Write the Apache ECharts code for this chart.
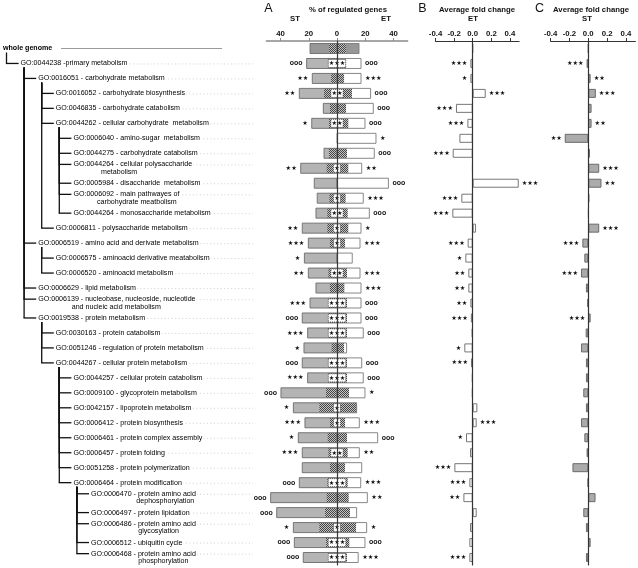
<!DOCTYPE html>
<html><head><meta charset="utf-8">
<script src="https://cdn.jsdelivr.net/npm/echarts@6/dist/echarts.min.js"></script>
<style>html,body{margin:0;padding:0;background:#fff}#c{width:638px;height:568px}</style>
</head><body><div id="c"></div>
<script>
// ---------- data ----------
const labels = [
  'whole genome',
  'GO:0044238 -primary metabolism',
  'GO:0016051 - carbohydrate metabolism',
  'GO:0016052 - carbohydrate biosynthesis',
  'GO:0046835 - carbohydrate catabolism',
  'GO:0044262 - cellular carbohydrate  metabolism',
  'GO:0006040 - amino-sugar  metabolism',
  'GO:0044275 - carbohydrate catabolism',
  'GO:0044264 - cellular polysaccharide\n              metabolism',
  'GO:0005984 - disaccharide  metabolism',
  'GO:0006092 - main pathwayes of\n            carbohydrate meatbolism',
  'GO:0044264 - monosaccharide metabolism',
  'GO:0006811 - polysaccharide metabolism',
  'GO:0006519 - amino acid and derivate metabolism',
  'GO:0006575 - aminoacid derivative meatabolism',
  'GO:0006520 - aminoacid metabolism',
  'GO:0006629 - lipid metabolism',
  'GO:0006139 - nucleobase, nucleoside, nucleotide\n                 and nucleic acid metabolism',
  'GO:0019538 - protein metabolism',
  'GO:0030163 - protein catabolism',
  'GO:0051246 - regulation of protein metabolism',
  'GO:0044267 - cellular protein metabolism',
  'GO:0044257 - cellular protein catabolism',
  'GO:0009100 - glycoprotein metabolism',
  'GO:0042157 - lipoprotein metabolism',
  'GO:0006412 - protein biosynthesis',
  'GO:0006461 - protein complex assembly',
  'GO:0006457 - protein folding',
  'GO:0051258 - protein polymerization',
  'GO:0006464 - protein modification',
  'GO:0006470 - protein amino acid\n                       dephosphorylation',
  'GO:0006497 - protein lipidation',
  'GO:0006486 - protein amino acid\n                        glycosylation',
  'GO:0006512 - ubiquitin cycle',
  'GO:0006468 - protein amino acid\n                        phosphorylation'
];
const levels  = [0,1,2,3,3,3,4,4,4,4,4,4,3,2,3,3,2,2,2,3,3,3,4,4,4,4,4,4,4,4,5,5,5,5,5];
const parents = [-1,0,1,2,2,2,5,5,5,5,5,5,2,1,13,13,1,1,1,18,18,18,21,21,21,21,21,21,21,21,29,29,29,29,29];

// Panel A: % of regulated genes (ST to the left, ET to the right), shared (hatched) part
const pctST = [19.1,21.5,17.5,26.7,9.7,17.9,0,9.2,25.7,16.1,14.0,14.9,24.6,20.3,23.1,20.3,14.9,19.1,24.6,20.8,23.4,24.6,20.8,39.7,30.9,22.7,27.4,24.6,24.6,26.7,47.0,42.7,30.9,30.2,23.9];
const pctET = [15.6,17.0,17.0,23.8,25.7,19.8,27.6,26.4,17.5,36.4,18.6,22.9,17.0,16.3,10.8,16.3,17.0,17.0,17.0,18.6,6.8,17.5,18.6,19.8,13.9,15.8,28.8,15.8,17.5,16.8,21.5,13.9,21.0,19.8,15.0];
const sharedST = [5.7,6.1,4.2,9.2,5.0,5.7,0,5.7,7.3,0,5.4,6.85,6.85,5.0,0,6.1,5.0,5.7,6.1,6.1,3.8,6.1,6.1,7.8,12.5,5.0,6.6,6.1,5.0,6.85,7.3,8.5,12.5,7.8,5.7];
const sharedET = [6.4,6.4,5.0,10.6,6.4,8.0,0,7.1,8.0,0,6.1,7.55,8.0,5.7,0,7.1,5.2,7.1,7.1,7.1,5.0,7.1,7.1,8.5,13.9,5.7,7.1,7.55,5.7,7.55,8.3,9.2,13.5,8.7,7.1];
const markST = ['','ooo','**','**','','*','','','**','','','','**','***','*','**','','***','ooo','***','*','ooo','***','ooo','*','***','*','***','','ooo','ooo','ooo','*','ooo','ooo'];
const markET = ['','ooo','***','ooo','ooo','ooo','*','ooo','**','ooo','***','ooo','*','***','','***','***','ooo','ooo','ooo','','ooo','ooo','*','','***','ooo','**','','***','**','','*','ooo','***'];
const markShared = ['','***','','**','','**','','','*','','*','**','*','*','','**','','***','***','***','','***','***','','*','*','','**','','***','','','*','***','***'];

// Panel B: average fold change ET ; Panel C: average fold change ST
const fcET = [0,-0.025,-0.025,0.14,-0.18,-0.057,-0.143,-0.215,-0.005,0.495,-0.122,-0.219,0.036,-0.054,-0.079,-0.047,-0.047,-0.025,-0.02,-0.01,-0.09,-0.018,-0.007,-0.007,0.05,0.043,-0.072,-0.029,-0.197,-0.036,-0.1,0.043,-0.029,-0.036,-0.036];
const markFcET = ['','L***','L*','R***','L***','L***','','L***','','R***','L***','L***','','L***','L*','L**','L**','L**','L***','','L*','L***','','','','R***','L*','','L***','L***','L**','','','','L***'];
const fcST = [0,-0.018,0.025,0.08,0.035,0.035,-0.25,0.017,0.116,0.14,0.01,0.003,0.116,-0.063,-0.042,-0.077,-0.025,-0.01,0.025,-0.028,-0.077,-0.025,-0.025,-0.053,-0.025,-0.077,-0.042,-0.018,-0.168,-0.005,0.077,-0.053,-0.025,0.025,-0.025];
const markFcST = ['','L***','R**','R***','','R**','L**','','R***','R**','','','R***','L***','','L***','','','L***','','','','','','','','','','','','','','','',''];

const ticksPct = [-40,-20,0,20,40];
const ticksFc = [-0.4,-0.2,0,0.2,0.4];

// ---------- chart ----------
const rows = labels.map((_, i) => String(i));
const FONT = '"Liberation Sans", Arial, sans-serif';
const STAR = '\u2605';
function glyph(m){ return m.indexOf('*') >= 0 ? STAR.repeat(m.length) : m; }
function markFont(m){
  return m.indexOf('*') >= 0 ? {fontFamily:'"DejaVu Sans"', fontSize:6.2, fontWeight:'normal'}
                              : {fontFamily:FONT, fontSize:7, fontWeight:'bold'};
}

// hatch pattern
const pat = document.createElement('canvas'); pat.width = 4; pat.height = 4;
const pg = pat.getContext('2d'); pg.fillStyle = '#c4c4c4'; pg.fillRect(0,0,4,4); pg.fillStyle = '#454545';
for (let y=0;y<4;y++) for (let x=0;x<4;x++) if ((x+y)%2===0) pg.fillRect(x,y,1,1);
const hatch = {image: pat, repeat: 'repeat'};

const TOP = 41, H = 524;

function renderTree(params, api){
  const i = params.dataIndex;
  const L = levels[i];
  const p0 = api.coord([L, i]);
  const tx = p0[0], ty = p0[1];
  const lineH = 7.7;
  const two = labels[i].indexOf('\n') >= 0;
  const ay = two ? ty - lineH/2 : ty;
  const cs = params.coordSys;
  const rightX = cs.x + cs.width;
  const ch = [];
  if (i === 0) {
    ch.push({type:'line', shape:{x1:tx+58, y1:ty, x2:tx+219, y2:ty}, style:{stroke:'#9a9a9a', lineWidth:1}});
  } else {
    ch.push({type:'line', shape:{x1:tx+4, y1:ay+0.5, x2:rightX, y2:ay+0.5}, style:{stroke:'#c4c4c4', lineWidth:0.8, lineDash:[1,2.5]}});
  }
  ch.push({type:'text', style:{text:labels[i], x:tx, y:ty, align:'left', verticalAlign:'middle',
    fontFamily:FONT, fontSize:7.1, fontWeight: i===0 ? 'bold' : 'normal', fill:'#000',
    lineHeight:lineH, backgroundColor:'#fff', padding:[0,1,0,0]}});
  const p = parents[i];
  if (p >= 0) {
    const pp = api.coord([levels[p], p]);
    const vx = pp[0] + 3.5;
    ch.push({type:'line', shape:{x1:vx, y1:pp[1]+4, x2:vx, y2:ay}, style:{stroke:'#111', lineWidth:1.3}});
    ch.push({type:'line', shape:{x1:vx-0.6, y1:ay, x2:tx-2, y2:ay}, style:{stroke:'#111', lineWidth:1.3}});
  }
  return {type:'group', children:ch};
}

function renderA(params, api){
  const i = params.dataIndex;
  const y = api.coord([0, i])[1];
  const x0 = api.coord([0, i])[0];
  const xl = api.coord([-pctST[i], i])[0];
  const xr = api.coord([pctET[i], i])[0];
  const hl = api.coord([-sharedST[i], i])[0];
  const hr = api.coord([sharedET[i], i])[0];
  const bh = 10;
  const top = y - bh/2;
  const ch = [];
  const grey = i === 0 ? '#979797' : '#b4b4b4';
  const right = i === 0 ? '#979797' : '#ffffff';
  if (x0 - xl > 0) ch.push({type:'rect', shape:{x:xl, y:top, width:x0-xl, height:bh}, style:{fill:grey}});
  if (xr - x0 > 0) ch.push({type:'rect', shape:{x:x0, y:top, width:xr-x0, height:bh}, style:{fill:right}});
  if (hr - hl > 0) ch.push({type:'rect', shape:{x:hl, y:top, width:hr-hl, height:bh}, style:{fill:hatch}});
  if (x0 - xl > 0) ch.push({type:'rect', shape:{x:xl, y:top, width:x0-xl, height:bh}, style:{fill:null, stroke:'#6b6b6b', lineWidth:0.9}});
  if (xr - x0 > 0) ch.push({type:'rect', shape:{x:x0, y:top, width:xr-x0, height:bh}, style:{fill:null, stroke:'#7a7a7a', lineWidth:0.9}});
  const mc = markShared[i];
  if (mc) {
    const w = mc.length*5.3 + 1.5;
    ch.push({type:'rect', shape:{x:x0 - w/2, y:y-4, width:w, height:8}, style:{fill:'#fff', stroke:'#333', lineWidth:0.7, lineDash:[1,1]}});
    ch.push({type:'text', style:Object.assign({text:glyph(mc), x:x0, y:y+0.3, align:'center', verticalAlign:'middle', fill:'#111'}, markFont(mc))});
  }
  if (markST[i]) ch.push({type:'text', style:Object.assign({text:glyph(markST[i]), x:xl-4, y:y, align:'right', verticalAlign:'middle', fill:'#111'}, markFont(markST[i]))});
  if (markET[i]) ch.push({type:'text', style:Object.assign({text:glyph(markET[i]), x:xr+4, y:y, align:'left', verticalAlign:'middle', fill:'#111'}, markFont(markET[i]))});
  return {type:'group', children:ch};
}

const rich = {
  s:{fontFamily:'"DejaVu Sans"', fontSize:6.2, color:'#111'},
  o:{fontFamily:FONT, fontSize:7, fontWeight:'bold', color:'#111'}
};
function fcData(vals, marks){
  return vals.map((v, i) => {
    const m = marks[i];
    if (!m) return {value:v, label:{show:false}};
    const t = m.slice(1);
    return {value:v, label:{show:true, position: m[0]==='L' ? 'left' : 'right', distance:3,
      formatter: t.indexOf('*')>=0 ? '{s|' + glyph(t) + '}' : '{o|' + t + '}', rich:rich}};
  });
}

function valueAxis(grid, min, max, ticks, fmt, lineColor, lineWidth){
  return {gridIndex:grid, type:'value', min:min, max:max, position:'top',
    axisLine:{show:true, onZero:false, lineStyle:{color:lineColor, width:lineWidth}},
    axisTick:{show:true, customValues:ticks, length:3, inside:false, lineStyle:{color:lineColor, width:1}},
    axisLabel:{show:true, customValues:ticks, formatter:fmt, fontFamily:FONT, fontSize:7.8, fontWeight:'bold', color:'#111', margin:3},
    splitLine:{show:false}};
}
function catAxis(grid, showLine, color, width){
  return {gridIndex:grid, type:'category', inverse:true, data:rows, z:5,
    axisLabel:{show:false}, axisTick:{show:false}, splitLine:{show:false},
    axisLine:{show:showLine, onZero:true, lineStyle:{color:color, width:width}}};
}

const chart = echarts.init(document.getElementById('c'), null, {renderer:'canvas'});
chart.setOption({
  animation:false,
  backgroundColor:'#fff',
  grid:[
    {left:3, width:250, top:TOP, height:H},
    {left:266.4, width:141.2, top:TOP, height:H},
    {left:435.5, width:83.7, top:TOP, height:H},
    {left:550.6, width:84.8, top:TOP, height:H}
  ],
  xAxis:[
    {gridIndex:0, type:'value', min:0, max:250/17.6, show:false},
    valueAxis(1, -50, 50, ticksPct, v => String(Math.abs(v)), '#8a8a8a', 1.6),
    valueAxis(2, -0.4, 0.5, ticksFc, v => v.toFixed(1), '#333', 1),
    valueAxis(3, -0.4, 0.5, ticksFc, v => v.toFixed(1), '#333', 1)
  ],
  yAxis:[
    Object.assign(catAxis(0, false, '#000', 1), {show:false}),
    catAxis(1, true, '#3a3a3a', 1.2),
    catAxis(2, true, '#333', 1.2),
    catAxis(3, true, '#333', 1.2)
  ],
  graphic:[
    {type:'text', x:268.5, y:9, style:{text:'A', fontFamily:FONT, fontSize:12.5, fill:'#111', align:'center', verticalAlign:'middle'}},
    {type:'text', x:348, y:10, style:{text:'% of regulated genes', fontFamily:FONT, fontSize:7.75, fontWeight:'bold', fill:'#111', align:'center', verticalAlign:'middle'}},
    {type:'text', x:295, y:19, style:{text:'ST', fontFamily:FONT, fontSize:7.75, fontWeight:'bold', fill:'#111', align:'center', verticalAlign:'middle'}},
    {type:'text', x:386, y:19, style:{text:'ET', fontFamily:FONT, fontSize:7.75, fontWeight:'bold', fill:'#111', align:'center', verticalAlign:'middle'}},
    {type:'text', x:422.5, y:8.5, style:{text:'B', fontFamily:FONT, fontSize:12.5, fill:'#111', align:'center', verticalAlign:'middle'}},
    {type:'text', x:477, y:10, style:{text:'Average fold change', fontFamily:FONT, fontSize:7.75, fontWeight:'bold', fill:'#111', align:'center', verticalAlign:'middle'}},
    {type:'text', x:473, y:19, style:{text:'ET', fontFamily:FONT, fontSize:7.75, fontWeight:'bold', fill:'#111', align:'center', verticalAlign:'middle'}},
    {type:'text', x:539.5, y:8.5, style:{text:'C', fontFamily:FONT, fontSize:12.5, fill:'#111', align:'center', verticalAlign:'middle'}},
    {type:'text', x:591, y:10, style:{text:'Average fold change', fontFamily:FONT, fontSize:7.75, fontWeight:'bold', fill:'#111', align:'center', verticalAlign:'middle'}},
    {type:'text', x:587, y:19, style:{text:'ST', fontFamily:FONT, fontSize:7.75, fontWeight:'bold', fill:'#111', align:'center', verticalAlign:'middle'}}
  ],
  series:[
    {type:'custom', xAxisIndex:0, yAxisIndex:0, renderItem:renderTree, encode:{x:0, y:1},
      data: labels.map((_, i) => [levels[i], i]), silent:true},
    {type:'custom', xAxisIndex:1, yAxisIndex:1, renderItem:renderA, encode:{x:0, y:1},
      data: labels.map((_, i) => [0, i]), silent:true, z:2},
    {type:'bar', xAxisIndex:2, yAxisIndex:2, barWidth:9, z:2,
      itemStyle:{color:'#fff', borderColor:'#777', borderWidth:1},
      data: fcData(fcET, markFcET)},
    {type:'bar', xAxisIndex:3, yAxisIndex:3, barWidth:9, z:2,
      itemStyle:{color:'#ababab', borderColor:'#6a6a6a', borderWidth:1},
      data: fcData(fcST, markFcST)}
  ]
});
</script></body></html>
